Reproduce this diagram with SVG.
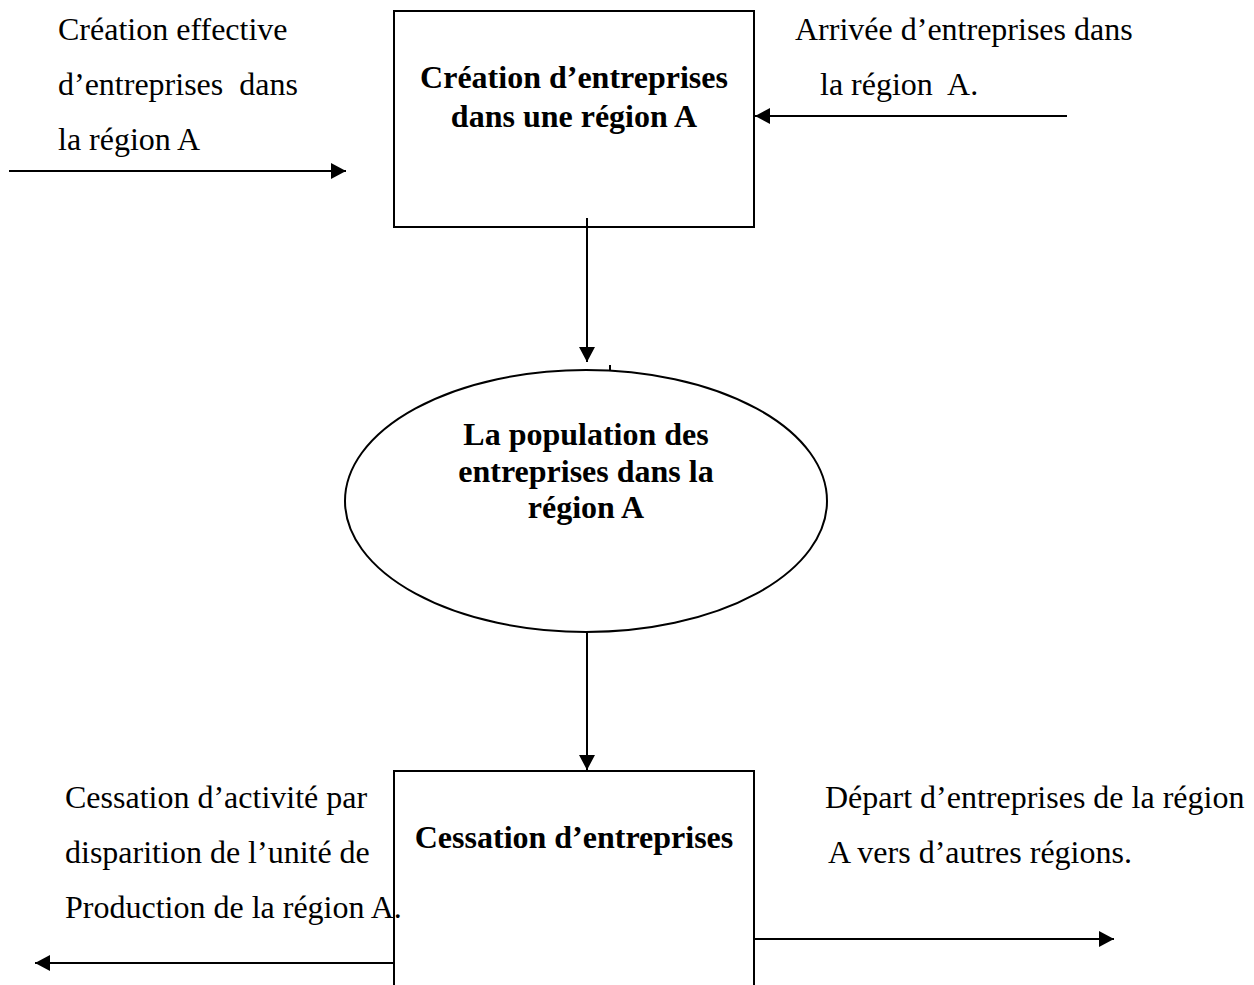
<svg xmlns="http://www.w3.org/2000/svg" width="1254" height="985" viewBox="0 0 1254 985">
<style>
.lbl{font-family:"Liberation Serif","Times New Roman",serif;font-size:32px;fill:#000;white-space:pre}
.bold{font-family:"Liberation Serif","Times New Roman",serif;font-size:32px;font-weight:bold;fill:#000;text-anchor:middle}
.shape{fill:#fff;stroke:#000;stroke-width:2}
.conn{stroke:#000;stroke-width:2;fill:none}
</style>
<defs>
<marker id="arr" markerUnits="userSpaceOnUse" markerWidth="16" markerHeight="16" refX="15" refY="8" orient="auto">
<path d="M0,0 L15,8 L0,16 Z" fill="#000"/>
</marker>
</defs>
<rect width="1254" height="985" fill="#fff"/>
<g id="node-creation">
<rect class="shape" x="394" y="11" width="360" height="216"/>
<text class="bold" x="574" y="88">Création d’entreprises</text>
<text class="bold" x="574" y="127">dans une région A</text>
</g>
<g id="node-population">
<ellipse class="shape" cx="586" cy="501" rx="241" ry="131"/>
<text class="bold" x="586" y="445">La population des</text>
<text class="bold" x="586" y="482">entreprises dans la</text>
<text class="bold" x="586" y="518">région A</text>
</g>
<g id="node-cessation">
<rect class="shape" x="394" y="771" width="360" height="230"/>
<text class="bold" x="574" y="848">Cessation d’entreprises</text>
</g>
<g id="connectors">
<line class="conn" x1="587" y1="218" x2="587" y2="362" marker-end="url(#arr)"/>
<line class="conn" x1="610" y1="365" x2="610" y2="371"/>
<line class="conn" x1="587" y1="632" x2="587" y2="770" marker-end="url(#arr)"/>
<line class="conn" x1="9" y1="171" x2="346" y2="171" marker-end="url(#arr)"/>
<line class="conn" x1="1067" y1="116" x2="755" y2="116" marker-end="url(#arr)"/>
<line class="conn" x1="394" y1="963" x2="35" y2="963" marker-end="url(#arr)"/>
<line class="conn" x1="754" y1="939" x2="1114" y2="939" marker-end="url(#arr)"/>
</g>
<g id="labels">
<text class="lbl" x="58" y="40">Création effective</text>
<text class="lbl" x="58" y="95">d’entreprises  dans</text>
<text class="lbl" x="58" y="150">la région A</text>
<text class="lbl" x="795" y="40">Arrivée d’entreprises dans</text>
<text class="lbl" x="820" y="95">la région  A.</text>
<text class="lbl" x="65" y="808">Cessation d’activité par</text>
<text class="lbl" x="65" y="863">disparition de l’unité de</text>
<text class="lbl" x="65" y="918">Production de la région A.</text>
<text class="lbl" x="825" y="808">Départ d’entreprises de la région</text>
<text class="lbl" x="828" y="863">A vers d’autres régions.</text>
</g>
</svg>
